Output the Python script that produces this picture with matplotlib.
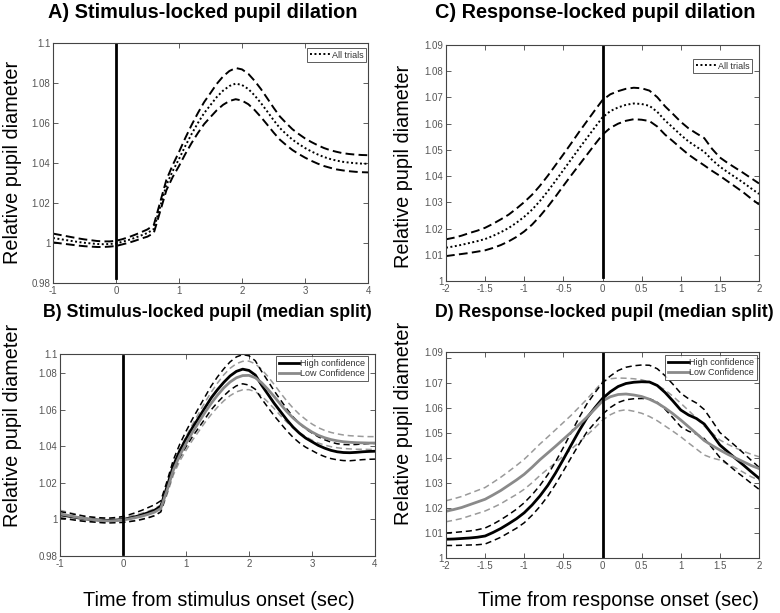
import numpy as np
import matplotlib
matplotlib.use("Agg")
import matplotlib.pyplot as plt

plt.rcParams['font.family'] = ['Liberation Sans', 'DejaVu Sans']

# ---------------- data ----------------
t_stim = np.round(np.arange(-1.0, 4.0001, 0.1), 2)
t_resp = np.round(np.arange(-2.0, 2.0001, 0.1), 2)

# Panel A: stimulus-locked, all trials
a_mean = [1.0025, 1.0020, 1.0015, 1.0010, 1.0005, 1.0001, 0.9998, 0.9995, 0.9994, 0.9995,
          0.9998, 1.0006, 1.0015, 1.0026, 1.0038, 1.0050, 1.0070, 1.0180, 1.0290, 1.0360,
          1.0420, 1.0485, 1.0545, 1.0600, 1.0650, 1.0690, 1.0730, 1.0762, 1.0785, 1.0797,
          1.0790, 1.0770, 1.0738, 1.0700, 1.0658, 1.0615, 1.0575, 1.0545, 1.0517, 1.0495,
          1.0475, 1.0458, 1.0443, 1.0430, 1.0420, 1.0412, 1.0406, 1.0402, 1.0399, 1.0397,
          1.0396]
a_sem = [0.0022, 0.0021, 0.0020, 0.0019, 0.0018, 0.0017, 0.0016, 0.0015, 0.0014, 0.0013,
         0.0013, 0.0013, 0.0014, 0.0015, 0.0016, 0.0018, 0.0020, 0.0023, 0.0026, 0.0030,
         0.0035, 0.0040, 0.0045, 0.0050, 0.0055, 0.0060, 0.0066, 0.0071, 0.0075, 0.0078,
         0.0078, 0.0076, 0.0073, 0.0070, 0.0066, 0.0062, 0.0058, 0.0055, 0.0052, 0.0050,
         0.0048, 0.0047, 0.0046, 0.0045, 0.0044, 0.0044, 0.0043, 0.0043, 0.0043, 0.0043,
         0.0043]

# Panel B: stimulus-locked, median split
b_high = [1.0025, 1.0020, 1.0014, 1.0008, 1.0003, 1.0000, 0.9997, 0.9995, 0.9995, 0.9997,
          1.0000, 1.0007, 1.0015, 1.0025, 1.0037, 1.0050, 1.0072, 1.0180, 1.0295, 1.0375,
          1.0440, 1.0500, 1.0555, 1.0610, 1.0665, 1.0710, 1.0750, 1.0785, 1.0810, 1.0822,
          1.0815, 1.0790, 1.0735, 1.0685, 1.0635, 1.0590, 1.0545, 1.0505, 1.0472, 1.0445,
          1.0425, 1.0405, 1.0390, 1.0378, 1.0370, 1.0366, 1.0365, 1.0367, 1.0370, 1.0372,
          1.0373]
b_high_sem = [0.0018, 0.0017, 0.0016, 0.0015, 0.0014, 0.0013, 0.0013, 0.0013, 0.0013, 0.0014,
              0.0016, 0.0019, 0.0022, 0.0025, 0.0028, 0.0030, 0.0030, 0.0030, 0.0032, 0.0036,
              0.0042, 0.0048, 0.0054, 0.0060, 0.0065, 0.0070, 0.0074, 0.0077, 0.0079, 0.0080,
              0.0080, 0.0078, 0.0075, 0.0072, 0.0068, 0.0064, 0.0060, 0.0056, 0.0053, 0.0050,
              0.0048, 0.0047, 0.0046, 0.0045, 0.0044, 0.0044, 0.0044, 0.0043, 0.0043, 0.0043,
              0.0043]
b_low = [1.0030, 1.0024, 1.0017, 1.0010, 1.0004, 1.0000, 0.9996, 0.9993, 0.9992, 0.9994,
         0.9997, 1.0003, 1.0010, 1.0018, 1.0028, 1.0040, 1.0060, 1.0160, 1.0270, 1.0350,
         1.0415, 1.0475, 1.0530, 1.0585, 1.0635, 1.0680, 1.0720, 1.0752, 1.0775, 1.0787,
         1.0788, 1.0775, 1.0748, 1.0712, 1.0672, 1.0630, 1.0590, 1.0555, 1.0525, 1.0500,
         1.0478, 1.0460, 1.0447, 1.0437, 1.0430, 1.0425, 1.0422, 1.0420, 1.0419, 1.0418,
         1.0418]
b_low_sem = [0.0020, 0.0018, 0.0016, 0.0015, 0.0014, 0.0013, 0.0012, 0.0012, 0.0012, 0.0012,
             0.0013, 0.0014, 0.0015, 0.0016, 0.0017, 0.0018, 0.0020, 0.0022, 0.0026, 0.0031,
             0.0037, 0.0043, 0.0049, 0.0055, 0.0061, 0.0066, 0.0071, 0.0075, 0.0077, 0.0078,
             0.0078, 0.0076, 0.0073, 0.0070, 0.0066, 0.0062, 0.0058, 0.0054, 0.0050, 0.0047,
             0.0044, 0.0042, 0.0040, 0.0039, 0.0038, 0.0037, 0.0036, 0.0036, 0.0035, 0.0035,
             0.0035]

# Panel C: response-locked, all trials
c_mean = [1.0127, 1.0132, 1.0138, 1.0145, 1.0152, 1.0160, 1.0172, 1.0186, 1.0202, 1.0222,
          1.0245, 1.0272, 1.0305, 1.0342, 1.0382, 1.0423, 1.0464, 1.0505, 1.0545, 1.0585,
          1.0624, 1.0648, 1.0662, 1.0672, 1.0677, 1.0675, 1.0668, 1.0645, 1.0612, 1.0585,
          1.0557, 1.0532, 1.0512, 1.0493, 1.0462, 1.0436, 1.0415, 1.0395, 1.0375, 1.0353,
          1.0332]
c_sem = [0.0032, 0.0033, 0.0035, 0.0038, 0.0040, 0.0043, 0.0046, 0.0049, 0.0051, 0.0054,
         0.0056, 0.0057, 0.0058, 0.0059, 0.0060, 0.0060, 0.0061, 0.0063, 0.0064, 0.0065,
         0.0066, 0.0064, 0.0062, 0.0061, 0.0060, 0.0060, 0.0058, 0.0056, 0.0054, 0.0052,
         0.0050, 0.0050, 0.0051, 0.0052, 0.0042, 0.0035, 0.0035, 0.0036, 0.0037, 0.0039,
         0.0040]

# Panel D: response-locked, median split
d_high = [1.0075, 1.0076, 1.0078, 1.0080, 1.0083, 1.0088, 1.0102, 1.0118, 1.0137, 1.0157,
          1.0181, 1.0212, 1.0248, 1.0290, 1.0340, 1.0395, 1.0452, 1.0508, 1.0560, 1.0600,
          1.0638, 1.0665, 1.0686, 1.0698, 1.0703, 1.0705, 1.0704, 1.0690, 1.0662, 1.0628,
          1.0592, 1.0572, 1.0558, 1.0536, 1.0495, 1.0452, 1.0425, 1.0398, 1.0372, 1.0345,
          1.0319]
d_high_sem = [0.0025, 0.0026, 0.0027, 0.0028, 0.0030, 0.0032, 0.0033, 0.0035, 0.0036, 0.0038,
              0.0040, 0.0041, 0.0042, 0.0043, 0.0045, 0.0047, 0.0050, 0.0053, 0.0056, 0.0060,
              0.0063, 0.0063, 0.0064, 0.0065, 0.0066, 0.0067, 0.0067, 0.0067, 0.0067, 0.0067,
              0.0067, 0.0065, 0.0062, 0.0058, 0.0054, 0.0050, 0.0050, 0.0050, 0.0048, 0.0046,
              0.0044]
d_low = [1.0187, 1.0194, 1.0202, 1.0213, 1.0224, 1.0235, 1.0252, 1.0270, 1.0291, 1.0312,
         1.0335, 1.0363, 1.0393, 1.0420, 1.0447, 1.0475, 1.0503, 1.0533, 1.0563, 1.0595,
         1.0628, 1.0645, 1.0654, 1.0656, 1.0652, 1.0646, 1.0635, 1.0620, 1.0600, 1.0577,
         1.0552, 1.0525, 1.0498, 1.0470, 1.0450, 1.0432, 1.0415, 1.0400, 1.0385, 1.0370,
         1.0358]
d_low_sem = [0.0042, 0.0043, 0.0044, 0.0045, 0.0046, 0.0047, 0.0050, 0.0053, 0.0055, 0.0058,
             0.0060, 0.0062, 0.0063, 0.0064, 0.0066, 0.0067, 0.0068, 0.0070, 0.0072, 0.0075,
             0.0077, 0.0072, 0.0066, 0.0063, 0.0065, 0.0067, 0.0069, 0.0071, 0.0072, 0.0070,
             0.0067, 0.0065, 0.0062, 0.0058, 0.0050, 0.0040, 0.0040, 0.0040, 0.0042, 0.0045,
             0.0047]

stim_xticks = [-1, 0, 1, 2, 3, 4]
stim_xticklabels = ['-1', '0', '1', '2', '3', '4']
resp_xticks = [-2, -1.5, -1, -0.5, 0, 0.5, 1, 1.5, 2]
resp_xticklabels = ['-2', '-1.5', '-1', '-0.5', '0', '0.5', '1', '1.5', '2']
a_yticks = [0.98, 1.0, 1.02, 1.04, 1.06, 1.08, 1.1]
a_yticklabels = ['0.98', '1', '1.02', '1.04', '1.06', '1.08', '1.1']
b_yticks = [0.98, 1.0, 1.02, 1.04, 1.06, 1.08, 1.0905]
b_yticklabels = ['0.98', '1', '1.02', '1.04', '1.06', '1.08', '1.1']
c_yticks = [1.0, 1.01, 1.02, 1.03, 1.04, 1.05, 1.06, 1.07, 1.08, 1.09]
c_yticklabels = ['1', '1.01', '1.02', '1.03', '1.04', '1.05', '1.06', '1.07', '1.08', '1.09']
d_yticks = [1.0, 1.01, 1.02, 1.03, 1.04, 1.05, 1.06, 1.07, 1.08, 1.0824]
d_yticklabels = ['1', '1.01', '1.02', '1.03', '1.04', '1.05', '1.06', '1.07', '', '1.09']

titles = ['A) Stimulus-locked pupil dilation', 'B) Stimulus-locked pupil (median split)',
          'C) Response-locked pupil dilation', 'D) Response-locked pupil (median split)']
ylabel = 'Relative pupil diameter'
xlabels = ['Time from stimulus onset (sec)', 'Time from response onset (sec)']
legend_all = 'All trials'
legend_split = ['High confidence', 'Low Confidence']

# ---------------- figure ----------------
W, H = 780, 613
fig = plt.figure(figsize=(W / 100, H / 100), dpi=100)


def add_ax(l, t, r, b):
    return fig.add_axes([l / W, 1 - b / H, (r - l) / W, (b - t) / H])


axA = add_ax(53, 43, 368, 283)
axC = add_ax(446, 45, 759, 281)
axB = add_ax(60, 354, 375, 556)
axD = add_ax(446, 352, 759, 558)

TICKFONT = ['Liberation Sans Narrow', 'Liberation Sans', 'DejaVu Sans']
GRAY = '#8a8a8a'
GRAYD = '#9a9a9a'


def style(ax, xlim, ylim, xt, xtl, yt, ytl):
    ax.set_xlim(*xlim)
    ax.set_ylim(*ylim)
    ax.set_xticks(xt)
    ax.set_xticklabels(xtl)
    ax.set_yticks(yt)
    ax.set_yticklabels(ytl)
    ax.tick_params(direction='in', length=3.5, width=0.6, color='#444444',
                   labelsize=7, labelcolor='#555555', top=True, right=True, pad=2)
    for lab in ax.get_xticklabels() + ax.get_yticklabels():
        lab.set_family(TICKFONT)
    for s in ax.spines.values():
        s.set_color('#444444')
        s.set_linewidth(0.8)


def leg(ax, anchor, fs=6.5):
    lg = ax.legend(loc='upper right', bbox_to_anchor=anchor, borderaxespad=0,
                   fancybox=False, frameon=True, handlelength=2.3, handletextpad=0.1,
                   borderpad=0.3, labelspacing=0.15, prop={'family': TICKFONT, 'size': fs})
    lg.get_frame().set_edgecolor('#333333')
    lg.get_frame().set_linewidth(0.7)
    for txt in lg.get_texts():
        txt.set_color('#333333')


def band(ax, t, m, s, color, lw, dash):
    m = np.asarray(m)
    s = np.asarray(s)
    ax.plot(t, m + s, color=color, lw=lw, linestyle=(0, dash))
    ax.plot(t, m - s, color=color, lw=lw, linestyle=(0, dash))


# Panel A
band(axA, t_stim, a_mean, a_sem, 'black', 1.4, (4.5, 2.2))
axA.plot(t_stim, a_mean, color='black', lw=1.4, linestyle=(0, (1, 1.3)), label=legend_all)
axA.axvline(0, ymin=0.0225, ymax=1, color='black', lw=2)
style(axA, (-1, 4), (0.98, 1.1), stim_xticks, stim_xticklabels, a_yticks, a_yticklabels)
leg(axA, (0.994, 0.98))

# Panel B
band(axB, t_stim, b_low, b_low_sem, GRAYD, 1.1, (4, 2.5))
band(axB, t_stim, b_high, b_high_sem, 'black', 1.1, (4, 2.5))
axB.plot(t_stim, b_high, color='black', lw=2.0, label=legend_split[0])
axB.plot(t_stim, b_low, color=GRAY, lw=2.0, label=legend_split[1])
axB.axvline(0, ymin=0.012, ymax=0.99, color='black', lw=2)
style(axB, (-1, 4), (0.98, 1.0905), stim_xticks, stim_xticklabels, b_yticks, b_yticklabels)
leg(axB, (0.978, 0.99))

# Panel C
band(axC, t_resp, c_mean, c_sem, 'black', 1.4, (4.5, 2.2))
axC.plot(t_resp, c_mean, color='black', lw=1.4, linestyle=(0, (1, 1.3)), label=legend_all)
axC.axvline(0, ymin=0.015, ymax=1, color='black', lw=2)
style(axC, (-2, 2), (1.0, 1.09), resp_xticks, resp_xticklabels, c_yticks, c_yticklabels)
leg(axC, (0.978, 0.941))

# Panel D
band(axD, t_resp, d_low, d_low_sem, GRAYD, 1.1, (4, 2.5))
band(axD, t_resp, d_high, d_high_sem, 'black', 1.1, (4, 2.5))
axD.plot(t_resp, d_high, color='black', lw=2.0, label=legend_split[0])
axD.plot(t_resp, d_low, color=GRAY, lw=2.0, label=legend_split[1])
axD.axvline(0, ymin=0.005, ymax=1, color='black', lw=2)
style(axD, (-2, 2), (1.0, 1.0824), resp_xticks, resp_xticklabels, d_yticks, d_yticklabels)
leg(axD, (0.994, 0.985))

# Titles and labels
TFS = 14.3
TFS2 = 12.8
fig.text(203 / W, 1 - 13 / H, titles[0], ha='center', va='center', fontsize=TFS, fontweight='bold')
fig.text(207 / W, 1 - 313 / H, titles[1], ha='center', va='center', fontsize=TFS2, fontweight='bold')
fig.text(595 / W, 1 - 13 / H, titles[2], ha='center', va='center', fontsize=TFS, fontweight='bold')
fig.text(604 / W, 1 - 313 / H, titles[3], ha='center', va='center', fontsize=TFS2, fontweight='bold')

LFS = 14.3
fig.text(13 / W, 1 - 162 / H, ylabel, rotation=90, ha='center', va='center', fontsize=LFS)
fig.text(13 / W, 1 - 425 / H, ylabel, rotation=90, ha='center', va='center', fontsize=LFS)
fig.text(403 / W, 1 - 166 / H, ylabel, rotation=90, ha='center', va='center', fontsize=LFS)
fig.text(403 / W, 1 - 423 / H, ylabel, rotation=90, ha='center', va='center', fontsize=LFS)
fig.text(219 / W, 1 - 600 / H, xlabels[0], ha='center', va='center', fontsize=LFS)
fig.text(619 / W, 1 - 600 / H, xlabels[1], ha='center', va='center', fontsize=LFS)

fig.savefig('out.png', dpi=100, facecolor='white')
